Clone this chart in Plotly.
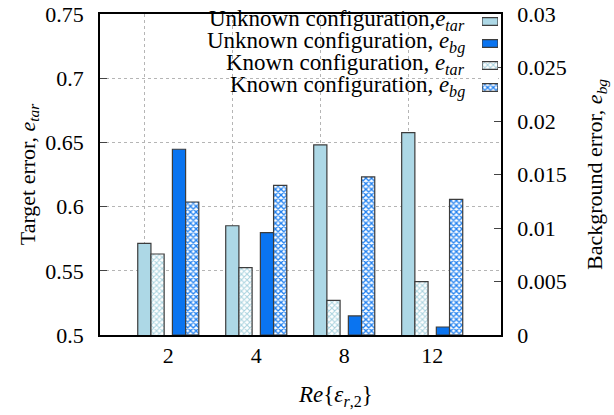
import plotly.graph_objects as go

categories = ["2", "4", "8", "12"]
unknown_tar = [0.5714, 0.5851, 0.6480, 0.6576]
known_tar = [0.5631, 0.5524, 0.5270, 0.5415]
unknown_bg = [0.01736, 0.00956, 0.00178, 0.00075]
known_bg = [0.01243, 0.01399, 0.01477, 0.01268]

names = [
    "Unknown configuration,<i>e</i><sub><i>tar</i></sub>",
    "Unknown configuration, <i>e</i><sub><i>bg</i></sub>",
    "Known configuration, <i>e</i><sub><i>tar</i></sub>",
    "Known configuration, <i>e</i><sub><i>bg</i></sub>",
]

FONT = "Liberation Serif"
edge = dict(color="#3c3c3c", width=1.2)
styles = [
    dict(color="#add8e6", line=edge),
    dict(color="#0a74f0", line=edge),
    dict(color="white", line=edge,
         pattern=dict(shape="x", fgcolor="#a9d3df", bgcolor="white", size=4, solidity=0.45)),
    dict(color="white", line=edge,
         pattern=dict(shape="x", fgcolor="#1f80f0", bgcolor="white", size=4, solidity=0.55)),
]
series = [unknown_tar, unknown_bg, known_tar, known_bg]
axes = ["y", "y2", "y", "y2"]
offsets = [-0.272, 0.122, -0.122, 0.272]

idx = list(range(len(categories)))
W = 0.15
XR = [-0.776, 3.782]

fig = go.Figure()
for k in range(4):
    fig.add_bar(x=[i + offsets[k] for i in idx], y=series[k], width=W, name=names[k],
                marker=styles[k], yaxis=axes[k], showlegend=False)

# key swatches (right column of the key), one row per series
for k in range(4):
    fig.add_bar(x=[1], y=[k], orientation="h", width=0.36, marker=styles[k],
                xaxis="x3", yaxis="y3", showlegend=False, hoverinfo="skip")

# opaque key background (above grid lines, below bars)
shapes = [dict(type="rect", xref="paper", yref="paper", x0=0.105, x1=1, y0=0.7, y1=1,
               fillcolor="white", line=dict(width=0), layer="between")]

row_px = [21.5, 43.5, 65.5, 87.5]
annotations = []
for k in range(4):
    annotations.append(dict(text=names[k], xref="paper", yref="paper",
                            x=0.915, y=(335 - row_px[k] + 1) / 321, xanchor="right",
                            yanchor="middle", showarrow=False,
                            font=dict(family=FONT, size=23, color="black")))
annotations.append(dict(text="<i>Re</i>{<i>ε</i><sub><i>r</i>,2</sub>}", xref="paper",
                        yref="paper", x=0.588, y=-0.19, xanchor="center", yanchor="middle",
                        showarrow=False, font=dict(family=FONT, size=23, color="black")))

grid = dict(showgrid=True, griddash="dot", gridcolor="#b5b5b5", gridwidth=1)
tickfont = dict(family=FONT, size=22, color="black")

fig.update_layout(
    template="none",
    width=614, height=415,
    margin=dict(l=100, r=113, t=14, b=80),
    paper_bgcolor="white", plot_bgcolor="white",
    barmode="overlay",
    font=dict(family=FONT, size=22, color="black"),
    showlegend=False,
    xaxis=dict(range=XR, tickvals=idx, ticktext=categories, ticks="", showgrid=False,
               minor=dict(tickvals=[i + offsets[0] for i in idx], ticks="", **grid),
               showline=True, mirror=True, linecolor="black", linewidth=1.5,
               zeroline=False, automargin=False, tickfont=tickfont),
    yaxis=dict(range=[0.5, 0.75], dtick=0.05, tick0=0.5, ticks="inside", ticklen=7,
               showline=True, linecolor="black", linewidth=1.5, zeroline=False,
               ticklabelstandoff=10, automargin=False, tickfont=tickfont,
               title=dict(text="Target error, <i>e</i><sub><i>tar</i></sub>", standoff=4,
                          font=dict(family=FONT, size=22)), **grid),
    yaxis2=dict(range=[0, 0.03], dtick=0.005, tick0=0, overlaying="y", side="right",
                ticks="inside", ticklen=7, showgrid=False, showline=True,
                linecolor="black", linewidth=1.5, zeroline=False,
                ticklabelstandoff=10, automargin=False, tickfont=tickfont,
                title=dict(text="Background error, <i>e</i><sub><i>bg</i></sub>", standoff=21,
                           font=dict(family=FONT, size=22))),
    xaxis3=dict(domain=[(482 - 100) / 401, (498 - 100) / 401], range=[0, 1], visible=False,
                anchor="y3", fixedrange=True),
    yaxis3=dict(domain=[(335 - 98.5) / 321, 1.0], range=[3.5, -0.341], visible=False,
                anchor="x3", fixedrange=True),
    shapes=shapes,
    annotations=annotations,
)

fig.write_html("out.html")
